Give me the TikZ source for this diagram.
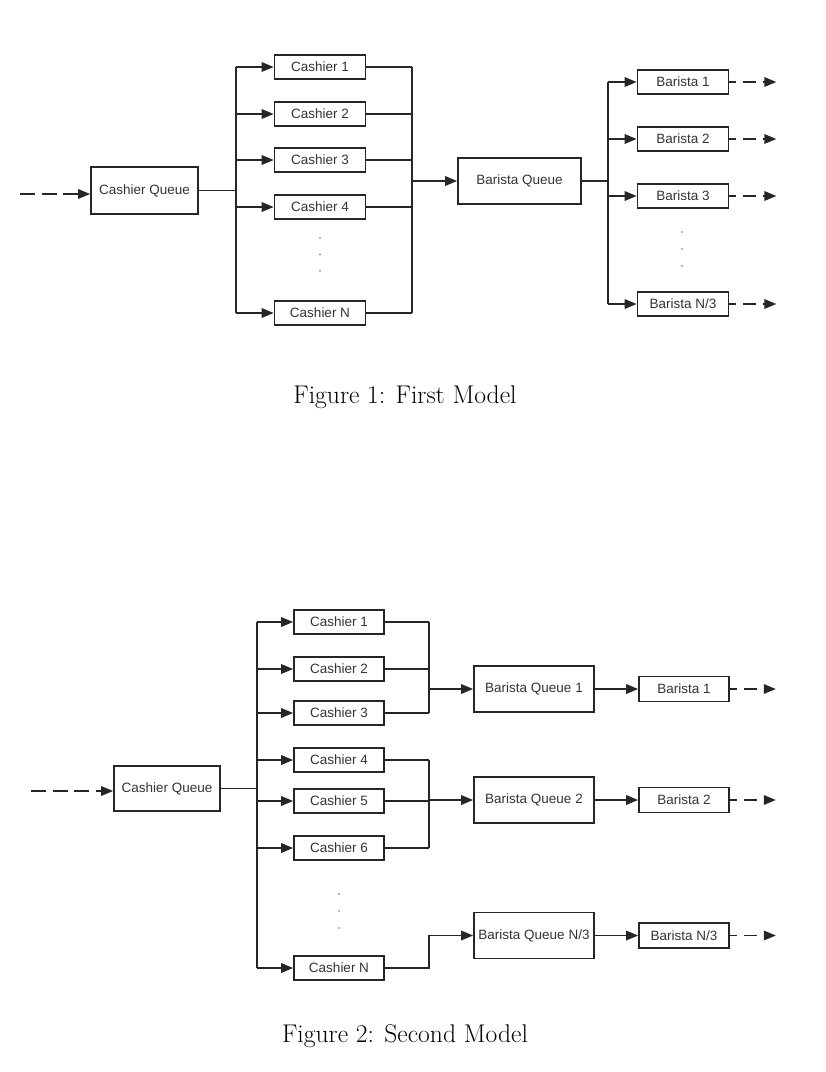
\documentclass[tikz,border=0pt]{standalone}
\usepackage{fontspec}
\newfontfamily\boxfont{Liberation Sans}
\usetikzlibrary{arrows.meta}

\begin{document}
\begin{tikzpicture}[x=1pt, y=-1pt, line width=1.7pt, draw=black!85,
                    box/.style={draw=black!85, line width=1.7pt, inner sep=0pt, minimum width=91pt, minimum height=24.5pt,
                                text=black!80, font=\boxfont\fontsize{13.5}{16}\selectfont},
                    queue/.style={box, minimum width=121pt, minimum height=46pt},
                    arr/.style={-{Triangle[length=12pt,width=9.5pt]}},
                    dashin/.style={arr, dash pattern=on 15pt off 6.5pt},
                    dashout/.style={arr, dash pattern=on 13pt off 7pt, dash phase=6pt},
                    figcap/.style={font=\fontsize{25.6}{30}\selectfont}]
    \useasboundingbox (0,0) rectangle (826,1072);

    % first model
    \node[queue, minimum width=107pt, minimum height=47pt] (cq) at (144.5,190.5) {Cashier Queue};
    \coordinate (in) at (20,194);
    \draw[dashin] (in) -- (in -| cq.west);

    \foreach \i/\y in {1/67, 2/114, 3/160, 4/207, N/313}
        \node[box] (c\i) at (320,\y) {Cashier \i};
    \foreach \y in {238, 254.5, 271}
        \fill[black!55] (320,\y) circle (0.9pt);

    \node[queue, minimum width=123pt] (bq) at (519.5,181) {Barista Queue};

    \coordinate (split) at (236,190.5);
    \coordinate (merge) at (412,181);
    \draw (cq.east) -- (split);
    \draw (split |- c1) -- (split |- cN);
    \draw (merge |- c1) -- (merge |- cN);
    \foreach \i in {1,2,3,4,N} {
        \draw[arr] (split |- c\i) -- (c\i.west);
        \draw (c\i.east) -- (merge |- c\i);
    }
    \draw[arr] (merge) -- (bq.west);

    \foreach \i/\y/\t in {1/82/1, 2/139/2, 3/196/3, N/304/N\slash 3}
        \node[box] (b\i) at (683,\y) {Barista \t};
    \foreach \y in {232, 249, 266}
        \fill[black!55] (682,\y) circle (0.9pt);

    \coordinate (bsplit) at (608,181);
    \draw (bq.east) -- (bsplit);
    \draw (bsplit |- b1) -- (bsplit |- bN);
    \foreach \i in {1,2,3,N} {
        \draw[arr] (bsplit |- b\i) -- (b\i.west);
        \draw[dashout] (b\i.east) -- ++(47,0);
    }

    \node[figcap] (cap1) at (405,397) {Figure 1: First Model};

    % second model
    \node[queue, minimum width=106pt, minimum height=45pt] (sq) at (167,788.5) {Cashier Queue};
    \coordinate (sin) at (31,791);
    \draw[dashin] (sin) -- (sin -| sq.west);

    \foreach \i/\y in {1/622, 2/669, 3/713, 4/760, 5/801, 6/848, N/968}
        \node[box, minimum width=90pt] (s\i) at (339,\y) {Cashier \i};
    \foreach \y in {894, 911, 928}
        \fill[black!55] (339,\y) circle (0.9pt);

    \coordinate (ssplit) at (257,788.5);
    \draw (sq.east) -- (ssplit);
    \draw (ssplit |- s1) -- (ssplit |- sN);
    \foreach \i in {1,2,3,4,5,6,N}
        \draw[arr] (ssplit |- s\i) -- (s\i.west);

    \foreach \j/\y/\t in {1/689/1, 2/800/2, N/935.5/N\slash 3} {
        \node[queue, minimum width=120pt] (sbq\j) at (534,\y) {Barista Queue \t};
        \node[box, minimum width=90pt, minimum height=25pt] (sb\j) at (684,\y) {Barista \t};
        \draw[arr] (sbq\j.east) -- (sb\j.west);
        \draw[dashout] (sb\j.east) -- ++(46,0);
    }

    \coordinate (m1) at (429,689);
    \coordinate (m2) at (429,800);
    \foreach \i in {1,2,3}
        \draw (s\i.east) -- (m1 |- s\i);
    \draw (m1 |- s1) -- (m1 |- s3);
    \draw[arr] (m1) -- (sbq1.west);
    \foreach \i in {4,5,6}
        \draw (s\i.east) -- (m2 |- s\i);
    \draw (m2 |- s4) -- (m2 |- s6);
    \draw[arr] (m2) -- (sbq2.west);
    \draw[arr] (sN.east) -| (429,935.5) -- (sbqN.west);

    \node[figcap] (cap2) at (405,1036) {Figure 2: Second Model};
\end{tikzpicture}
\end{document}
